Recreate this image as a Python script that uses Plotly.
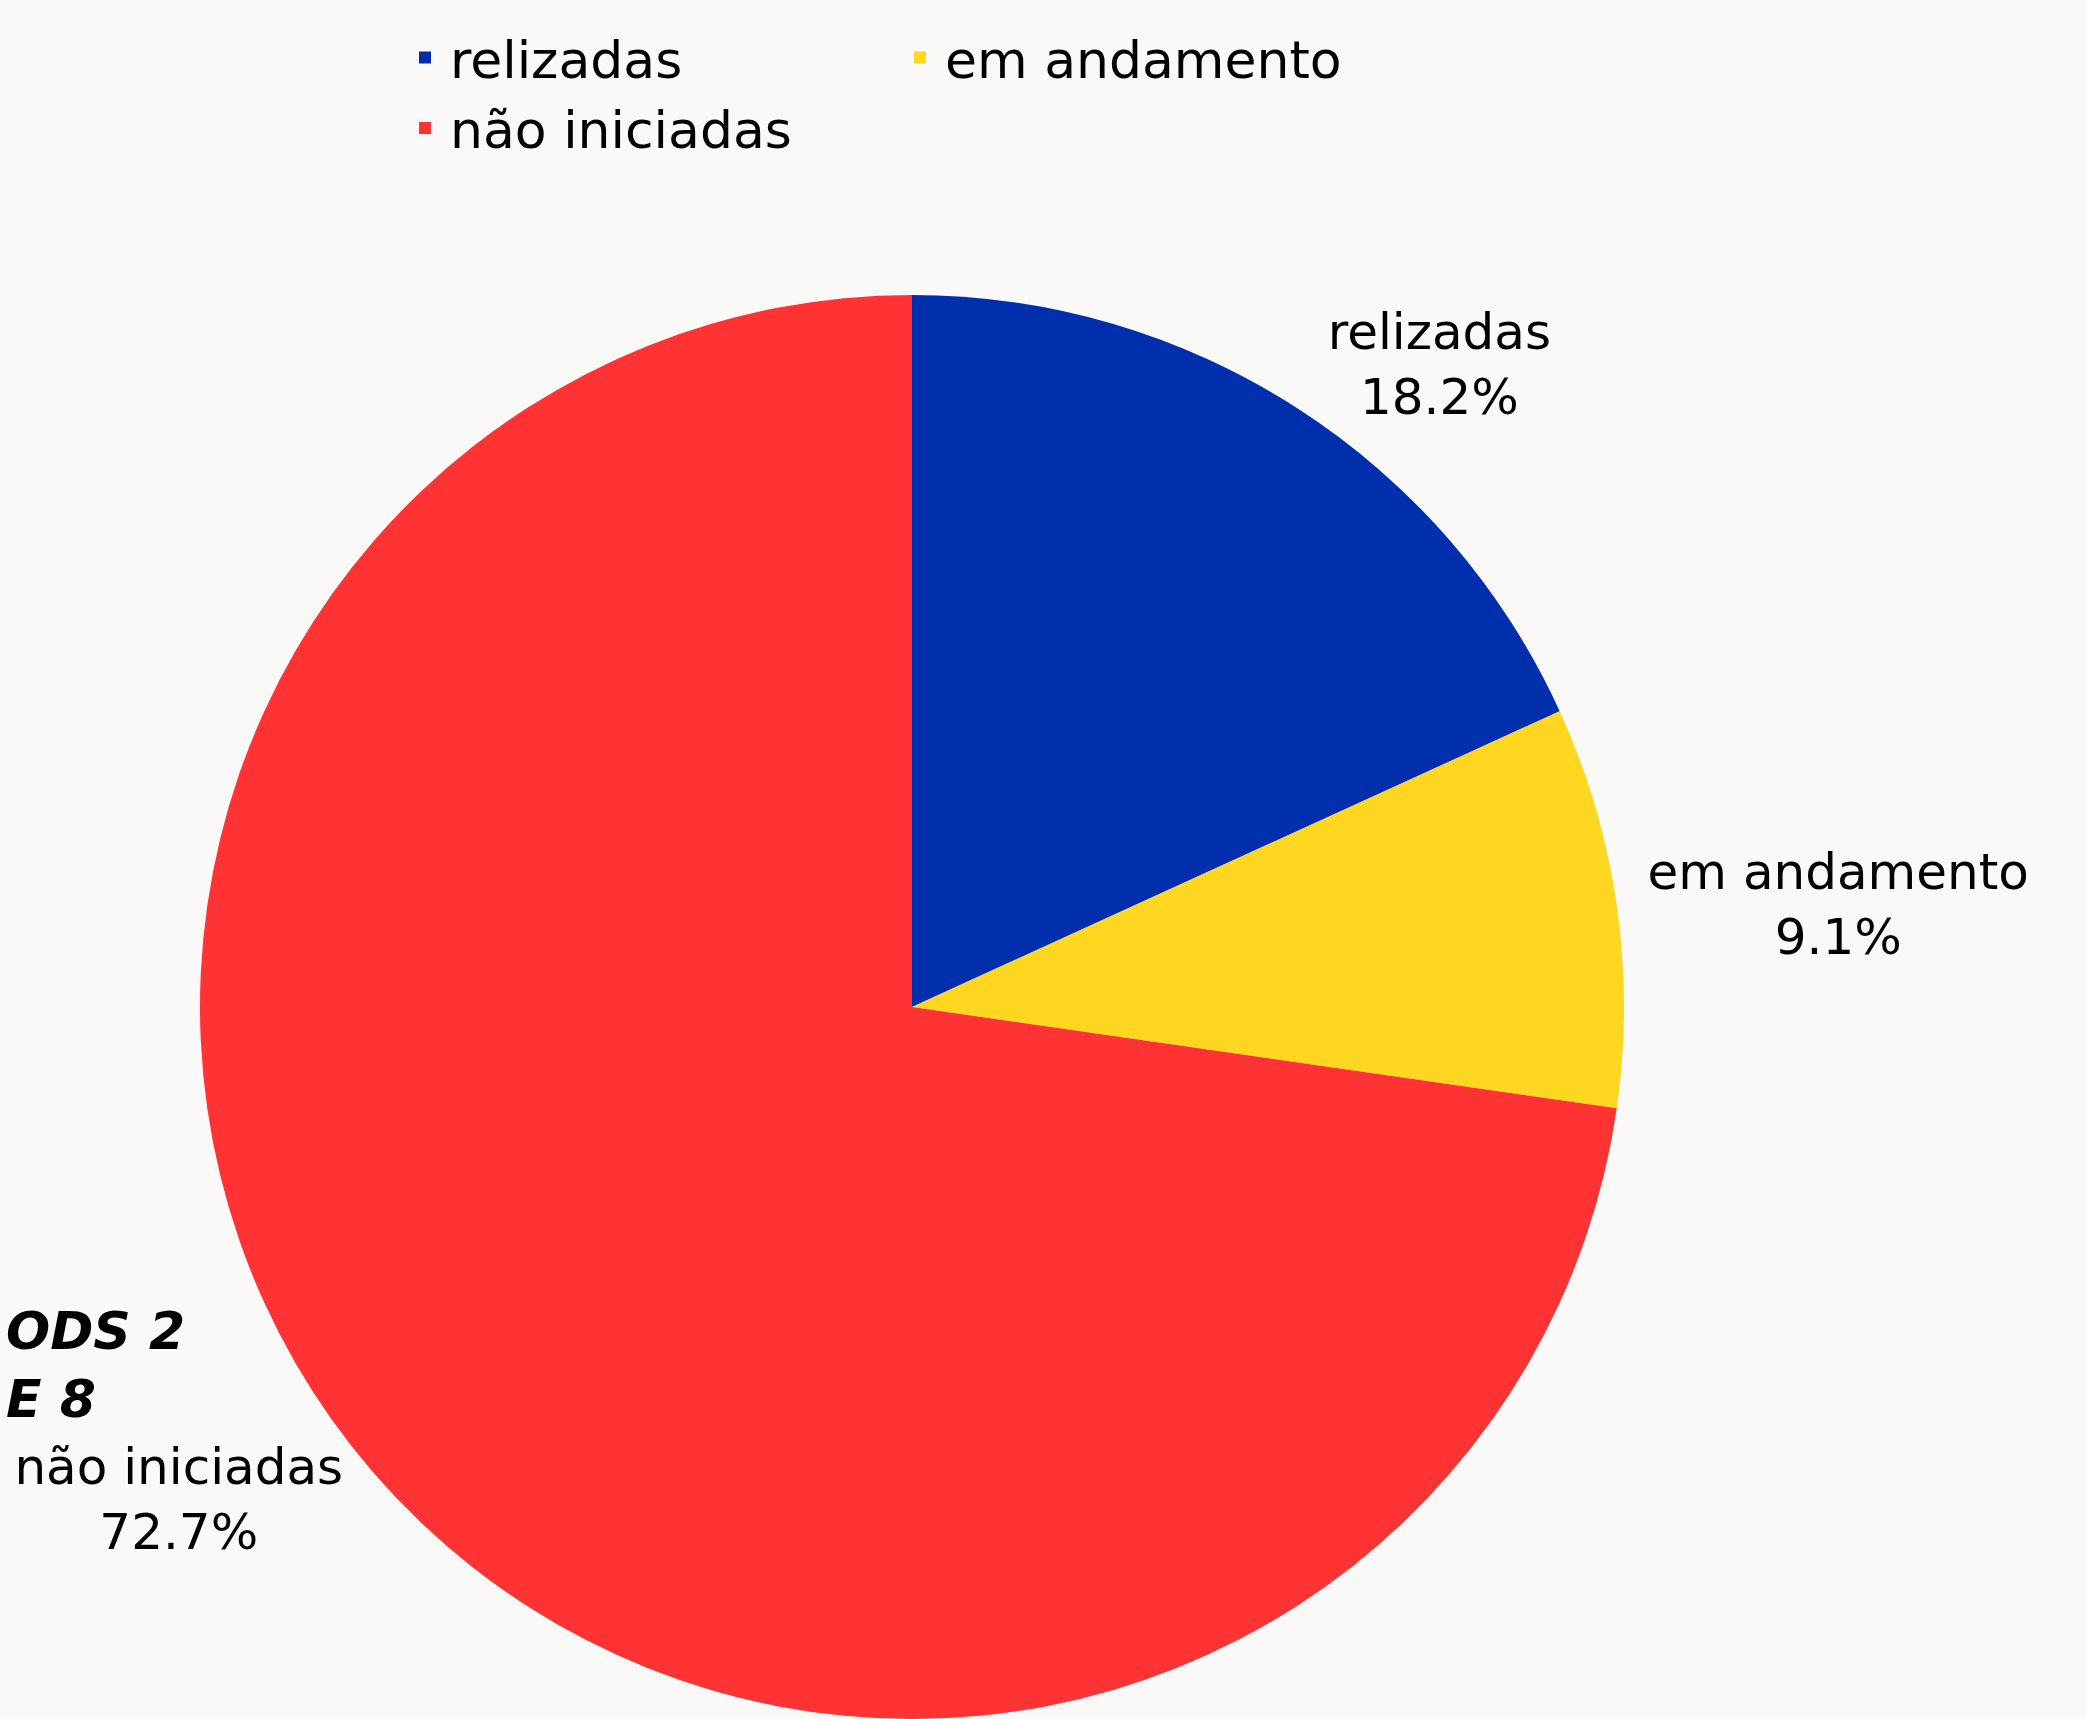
import plotly.graph_objects as go

# Status of the goals (count of goals per status)
status_labels = ["relizadas", "em andamento", "não iniciadas"]
status_counts = [2, 1, 8]
status_colors = ["#002FAD", "#FFD620", "#FF3333"]

title_text = "ODS 2<br>E 8"

FONT = "DejaVu Sans"
BG = "#FAF9F7"

W, H = 2087, 1719
# plot area sized to the pie's diameter; labels and title live in the margins
M_LEFT, M_RIGHT = 197, 460
PLOT_W = W - M_LEFT - M_RIGHT

fig = go.Figure(
    go.Pie(
        labels=status_labels,
        values=status_counts,
        marker=dict(colors=status_colors, line=dict(width=0)),
        sort=False,
        direction="clockwise",
        rotation=0,
        textposition="outside",
        texttemplate="%{label}<br>%{percent:.1%}",
        outsidetextfont=dict(family=FONT, size=50, color="#000000"),
        domain=dict(x=[0, 1], y=[0, 0.8284]),
        hoverinfo="label+percent",
    )
)

# Title block at the lower left
fig.add_annotation(
    text="<b><i>" + title_text + "</i></b>",
    xref="paper", yref="paper",
    x=(4 - M_LEFT) / PLOT_W, y=0.206,
    xanchor="left", yanchor="middle",
    align="left",
    showarrow=False,
    font=dict(family=FONT, size=52, color="#000000"),
)

fig.update_layout(
    width=W,
    height=H,
    margin=dict(l=M_LEFT, r=M_RIGHT, t=0, b=0, autoexpand=False),
    paper_bgcolor=BG,
    plot_bgcolor=BG,
    font=dict(family=FONT, color="#000000"),
    showlegend=True,
    legend=dict(
        orientation="h",
        x=(895 - M_LEFT) / PLOT_W, xanchor="center",
        y=0.99, yanchor="top",
        font=dict(family=FONT, size=52, color="#000000"),
        bgcolor="rgba(0,0,0,0)",
        itemwidth=40,
        entrywidth=440,
        entrywidthmode="pixels",
    ),
)

fig.write_html("out.html")
